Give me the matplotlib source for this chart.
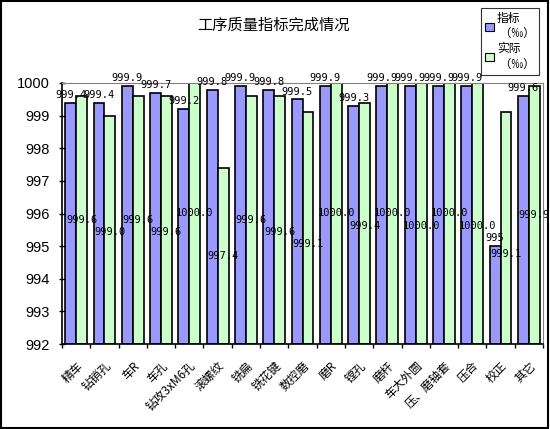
import matplotlib
matplotlib.use("Agg")
import matplotlib.pyplot as plt
from matplotlib.patches import Patch, Rectangle
import numpy as np

plt.rcParams["font.family"] = ["Noto Sans CJK SC", "DejaVu Sans"]

categories = ["精车", "钻销孔", "车R", "车孔", "钻攻3xM6孔", "滚螺纹", "铣扁", "铣花键",
              "数控磨", "磨R", "镗孔", "磨杆", "车大外圆", "压、磨轴套", "压合", "校正", "其它"]
target = [999.4, 999.4, 999.9, 999.7, 999.2, 999.8, 999.9, 999.8,
          999.5, 999.9, 999.3, 999.9, 999.9, 999.9, 999.9, 995, 999.6]
actual = [999.6, 999.0, 999.6, 999.6, 1000.0, 997.4, 999.6, 999.6,
          999.1, 1000.0, 999.4, 1000.0, 1000.0, 1000.0, 1000.0, 999.1, 999.9]
series_names = ["指标\n （‰）", "实际\n （‰）"]
y_min, y_max = 992, 1000

blue = "#9999FF"
green = "#CCFFCC"

fig = plt.figure(figsize=(5.5, 4.29), dpi=100)
ax = fig.add_axes([62 / 550, 85 / 429, 481 / 550, 261 / 429])

x = np.arange(len(categories))
w = 0.385
ax.bar(x - w / 2, np.array(target) - y_min, bottom=y_min, width=w,
       color=blue, edgecolor="black", linewidth=1.2)
ax.bar(x + w / 2, np.array(actual) - y_min, bottom=y_min, width=w,
       color=green, edgecolor="black", linewidth=1.2)

mono = "DejaVu Sans Mono"
for xi, v in zip(x, target):
    ax.annotate(f"{v:g}", (xi - w / 2, v), xytext=(0, 2), textcoords="offset points",
                ha="center", va="bottom", fontsize=7.5, family=mono, clip_on=False)

# green labels sit mid-bar; push one down if it would hit the label on its left
# or the value label of its own blue bar
step = 0.37
prev = None
for xi, v, t in zip(x, actual, target):
    y = (y_min + v) / 2
    if prev is not None and abs(y - prev) < step:
        y = prev - step
    if t - 0.2 < y < t + 0.55:
        y = t - 0.25
    prev = y
    ax.text(xi + w / 2, y, f"{v:.1f}", ha="center", va="center",
            fontsize=7.5, family=mono)

ax.set_xlim(-0.5, len(categories) - 0.5)
ax.set_ylim(y_min, y_max)
ax.set_yticks(np.arange(y_min, y_max + 1, 1))
ax.set_yticklabels([str(t) for t in range(y_min, y_max + 1)],
                   family="Liberation Sans", fontsize=10.5)
ax.tick_params(axis="y", direction="inout", length=5, width=1, pad=6)

ax.set_xticks(x)
ax.set_xticklabels(categories, rotation=45, ha="right", va="top",
                   rotation_mode="anchor", fontsize=8.5)
ax.tick_params(axis="x", which="major", length=0, pad=11)
ax.set_xticks(np.arange(-0.5, len(categories), 1), minor=True)
ax.tick_params(axis="x", which="minor", direction="out", length=3, width=1)

ax.spines["left"].set_linewidth(1.2)
ax.spines["bottom"].set_linewidth(1.2)
ax.spines["top"].set_color("#808080")
ax.spines["right"].set_color("#808080")

fig.text(273 / 550, 1 - 25 / 429, "工序质量指标完成情况", ha="center", va="center",
         fontsize=11)

handles = [Patch(facecolor=blue, edgecolor="black", linewidth=0.8),
           Patch(facecolor=green, edgecolor="black", linewidth=0.8)]
leg = fig.legend(handles, series_names, loc="upper right",
                 bbox_to_anchor=(545 / 550, 1 - 2 / 429), fontsize=8.5,
                 frameon=True, fancybox=False, edgecolor="black",
                 handlelength=0.7, handleheight=0.7, handletextpad=0.3,
                 borderpad=0.35, labelspacing=0.2)
leg.get_frame().set_linewidth(0.8)

fig.patches.append(Rectangle((0.001, 0.002), 0.995, 0.995, transform=fig.transFigure,
                             fill=False, edgecolor="black", linewidth=1.5))

fig.savefig("out.png", dpi=100)
